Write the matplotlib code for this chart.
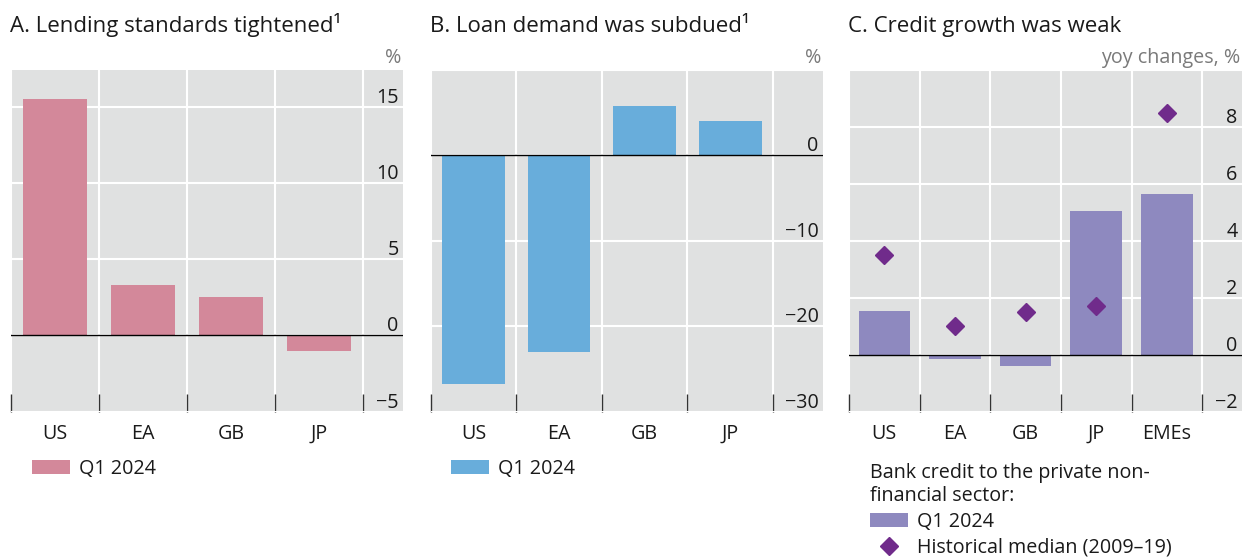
import matplotlib.pyplot as plt
import matplotlib.transforms as mtransforms
from matplotlib.patches import Patch
from matplotlib.lines import Line2D

plt.rcParams['font.family'] = ['Open Sans', 'DejaVu Sans']

# Datos
paises = ['US', 'EA', 'GB', 'JP']
paises_c = ['US', 'EA', 'GB', 'JP', 'EMEs']
estandares = [15.5, 3.3, 2.55, -1.0]          # A. criterios de préstamo, %
demanda = [-26.7, -23.0, 5.8, 4.0]            # B. demanda de préstamos, %
credito = [1.55, -0.15, -0.4, 5.05, 5.65]     # C. crédito bancario Q1 2024
mediana_hist = [3.5, 1.0, 1.5, 1.7, 8.5]      # C. mediana histórica 2009-19

# Colores
FONDO = '#e0e1e1'
ROSA = '#d3889a'
AZUL = '#68addb'
LILA = '#8e89bf'
MORADO = '#702b8b'
GRIS = '#7a7a7a'
TEXTO = '#1a1a1a'
FS = 14.2

W, H = 1254, 559
fig = plt.figure(figsize=(W / 100, H / 100), dpi=100)


def rect(x0, x1, y0, y1):
    return [x0 / W, 1 - y1 / H, (x1 - x0) / W, (y1 - y0) / H]


def panel(r, cats, valores, color, ylim, ticks, extra, unidad, titulo):
    ax = fig.add_axes(r)
    n = len(cats)
    ax.set_facecolor(FONDO)
    for s in ax.spines.values():
        s.set_visible(False)
    ax.set_axisbelow(True)
    ax.bar(range(n), valores, width=0.73, color=color, zorder=2)
    ax.axhline(0, color='black', lw=1, zorder=3)
    ax.set_xlim(-0.5, n - 0.5 + extra)
    ax.set_ylim(*ylim)

    # ticks del eje x: marcas en los bordes, etiquetas en el centro
    ax.set_xticks([i - 0.5 for i in range(n + 1)])
    ax.set_xticks(range(n), minor=True)
    ax.set_xticklabels(cats, minor=True)
    ax.tick_params(axis='x', which='major', direction='in', length=13,
                   width=1, color='#333333', labelbottom=False)
    ax.tick_params(axis='x', which='minor', length=0, pad=9,
                   labelsize=FS, labelcolor=TEXTO)

    ax.set_yticks(ticks)
    ax.tick_params(axis='y', length=0, labelleft=False)
    ax.grid(True, which='major', color='white', lw=1.5)

    # etiquetas del eje y dentro del gráfico, a la derecha
    trans = mtransforms.blended_transform_factory(ax.transAxes, ax.transData)
    trans = mtransforms.offset_copy(trans, fig=fig, x=-4, y=4, units='dots')
    for t in ticks:
        if t >= ylim[1]:
            continue
        etiqueta = str(t).replace('-', '\u2212')
        ax.text(1, t, etiqueta, transform=trans, ha='right', va='baseline',
                fontsize=FS, color=TEXTO)

    tu = mtransforms.offset_copy(ax.transAxes, fig=fig, x=-1, y=7, units='dots')
    ax.text(1, 1, unidad, transform=tu, ha='right', va='baseline',
            fontsize=FS, color=GRIS)

    fig.text((r[0] * W - 1) / W, 1 - 31.7 / H, titulo, ha='left',
             va='baseline', fontsize=16, color=TEXTO)
    return ax


ax_a = panel(rect(10.7, 402.7, 70, 411.7), paises, estandares, ROSA,
             (-5, 17.42), [15, 10, 5, 0, -5], 0.446, '%',
             'A. Lending standards tightened\u00b9')
ax_b = panel(rect(430.7, 822.7, 70, 411.7), paises, demanda, AZUL,
             (-30, 9.96), [10, 0, -10, -20, -30], 0.58, '%',
             'B. Loan demand was subdued\u00b9')
ax_c = panel(rect(849, 1241.7, 70, 411.7), paises_c, credito, LILA,
             (-2, 10.0), [10, 8, 6, 4, 2, 0, -2], 0.56, 'yoy changes, %',
             'C. Credit growth was weak')

ax_c.plot(range(len(paises_c)), mediana_hist, 'D', ms=9.5, color=MORADO,
          ls='none', zorder=4)

# Leyendas
opciones = dict(loc='upper left', bbox_transform=fig.transFigure,
                frameon=False, fontsize=FS, handlelength=1.95,
                handleheight=0.75, handletextpad=0.45, borderpad=0,
                borderaxespad=0, labelcolor=TEXTO)

for ax, color, x in [(ax_a, ROSA, 31.7), (ax_b, AZUL, 451)]:
    ax.legend(handles=[Patch(facecolor=color)], labels=['Q1 2024'],
              bbox_to_anchor=(x / W, 1 - 459 / H), **opciones)

leg = ax_c.legend(handles=[Patch(facecolor=LILA),
                           Line2D([], [], marker='D', ms=9.5, color=MORADO, ls='none')],
                  labels=['Q1 2024', 'Historical median (2009\u201319)'],
                  title='Bank credit to the private non-\nfinancial sector:',
                  title_fontsize=FS, alignment='left', labelspacing=0.3,
                  bbox_to_anchor=(870 / W, 1 - 463 / H), **opciones)
leg.get_title().set_color(TEXTO)

fig.savefig('out.png', dpi=100)
